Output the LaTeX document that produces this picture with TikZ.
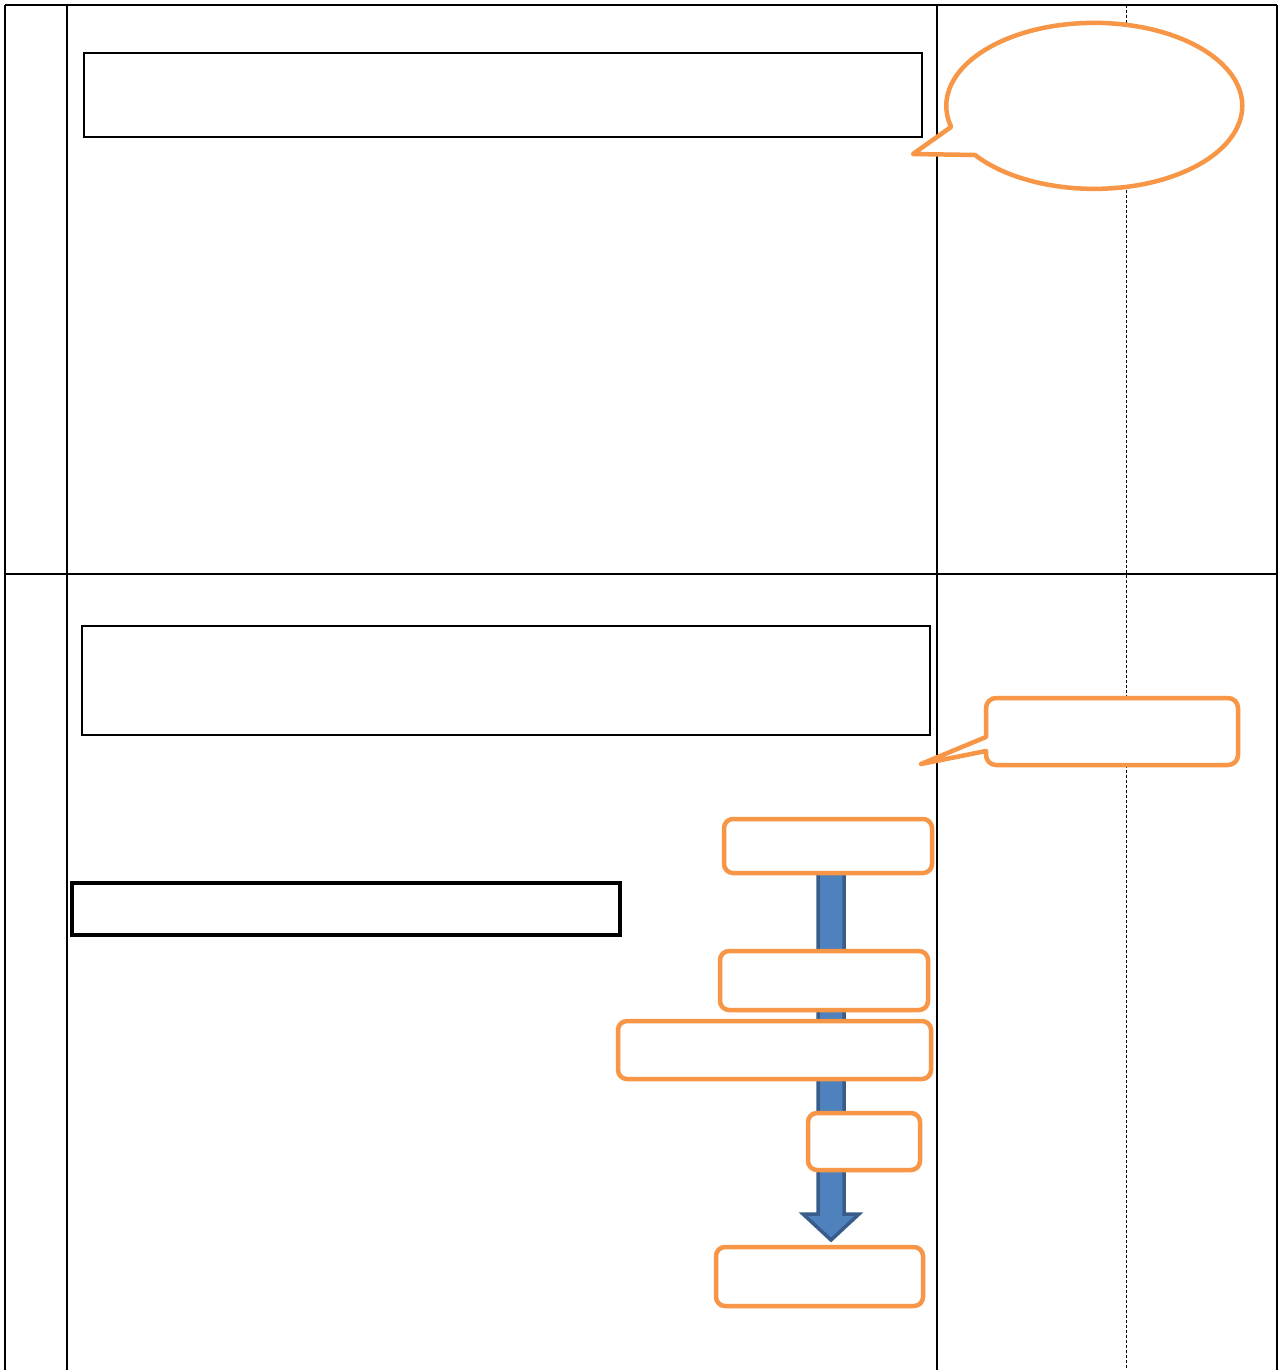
\documentclass[tikz,border=0pt]{standalone}
\usetikzlibrary{calc}
\definecolor{orangeC}{HTML}{F79646}
\definecolor{blueF}{HTML}{4F81BD}
\definecolor{blueD}{HTML}{385D8A}
\begin{document}
\begin{tikzpicture}[x=1pt,y=1pt,
  grid/.style={line width=1.8pt,black},
  thinbox/.style={draw=black,line width=1.5pt,fill=white,inner sep=0pt},
  thickbox/.style={draw=black,line width=4.5pt,fill=white,inner sep=0pt},
  obox/.style={draw=orangeC,line width=4.5pt,rounded corners=9pt,fill=white,inner sep=0pt},
  ocall/.style={draw=orangeC,line width=4.5pt,fill=white,line join=round},
  bigarrow/.style={fill=blueF,draw=blueD,line width=3.5pt,line join=miter}]
\useasboundingbox (0,0) rectangle (1282,-1370);
\fill[white] (0,0) rectangle (1282,-1370);
% table
\draw[grid] (5,-5) -- (1277,-5);
\draw[grid] (5,-574) -- (1277,-574);
\draw[grid] (5,-5) -- (5,-1370);
\draw[grid] (67,-5) -- (67,-1370);
\draw[grid] (937,-5) -- (937,-1370);
\draw[grid] (1277,-5) -- (1277,-1370);
\draw[line width=0.9pt,dash pattern=on 3pt off 2pt] (1126,-5) -- (1126,-1370);
% black boxes
\node[thinbox,minimum width=838pt,minimum height=84pt] (b1) at (503,-95) {};
\node[thinbox,minimum width=848pt,minimum height=109pt] (b2) at (506,-680.5) {};
\node[thickbox,minimum width=548pt,minimum height=52pt] (b3) at (346,-909) {};
% ellipse callout
\draw[ocall] (975,-155) arc[start angle=216.3,end angle=554.7,x radius=148,y radius=83] -- (913,-154) -- cycle;
% rectangle callout
\draw[ocall] (921,-764) -- (986,-737) [rounded corners=10pt] -- (986,-698) -- (1238,-698) -- (1238,-765) -- (986,-765) [sharp corners] -- (986,-751) -- cycle;
% big arrow
\draw[bigarrow] (818,-868) -- (844,-868) -- (844,-1214) -- (859,-1214) -- (831,-1240) -- (803,-1214) -- (818,-1214) -- cycle;
% orange boxes
\node[obox,minimum width=208pt,minimum height=54pt] (s1) at (828,-846) {};
\node[obox,minimum width=208pt,minimum height=59pt] (s2) at (824,-980.5) {};
\node[obox,minimum width=313pt,minimum height=58pt] (s3) at (774.5,-1050) {};
\node[obox,minimum width=112pt,minimum height=57pt] (s4) at (864,-1141.5) {};
\node[obox,minimum width=207pt,minimum height=59pt] (s5) at (819.5,-1276.5) {};
\end{tikzpicture}
\end{document}
